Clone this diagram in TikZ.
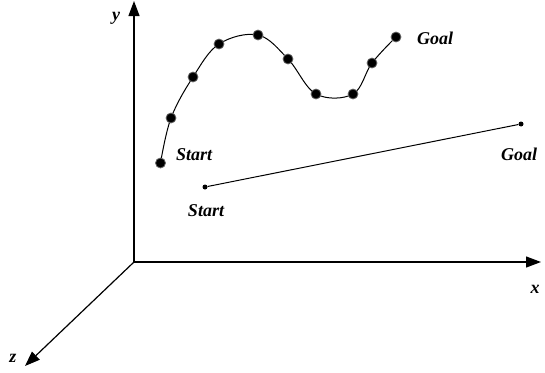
\documentclass[tikz,border=0pt]{standalone}
\usepackage{fontspec}
\setmainfont{Liberation Serif}
\usetikzlibrary{arrows.meta}
\begin{document}
\begin{tikzpicture}[x=1pt,y=-1pt,
  axis/.style={line width=1.2pt,-{Triangle[length=15pt,width=11pt]}},
  bigdot/.style={circle,fill=black,draw=black!60,line width=0.8pt,inner sep=0pt,minimum size=10pt},
  smalldot/.style={circle,fill=black,inner sep=0pt,minimum size=5pt},
  lbl/.style={font=\fontsize{18}{20}\selectfont\bfseries\itshape,inner sep=0pt},
  path/.style={line width=1pt}]
\useasboundingbox (0,0) rectangle (545,372);
\coordinate (O) at (134,262);
\coordinate (Y) at (134,1);
\coordinate (X) at (541,262);
\coordinate (Z) at (25,366);
\draw[axis] (O) -- (Y);
\draw[axis] (O) -- (X);
\draw[axis] (O) -- (Z);
\node[lbl] (ly) at (116,18) {y};
\node[lbl] (lx) at (535,289) {x};
\node[lbl] (lz) at (13,358) {z};
% curved path
\coordinate (p1) at (160.5,163);
\coordinate (p2) at (171,118);
\coordinate (p3) at (193,77);
\coordinate (p4) at (219,44);
\coordinate (p5) at (258,35);
\coordinate (p6) at (288,59);
\coordinate (p7) at (316,94);
\coordinate (p8) at (353,94);
\coordinate (p9) at (372,63);
\coordinate (p10) at (396,37);
\draw[path] plot[smooth,tension=0.6] coordinates {(p1) (p2) (p3) (p4) (p5) (p6) (p7) (p8) (p9) (p10)};
\foreach \i in {1,...,10} \node[bigdot] (d\i) at (p\i) {};
\node[lbl,anchor=west] (s1) at (176,155) {Start};
\node[lbl,anchor=west] (g1) at (417,38) {Goal};
% straight path
\node[smalldot] (a) at (205,187) {};
\node[smalldot] (b) at (521,124) {};
\draw[path] (a) -- (b);
\node[lbl] (s2) at (206,211) {Start};
\node[lbl] (g2) at (519,154) {Goal};
\end{tikzpicture}
\end{document}
